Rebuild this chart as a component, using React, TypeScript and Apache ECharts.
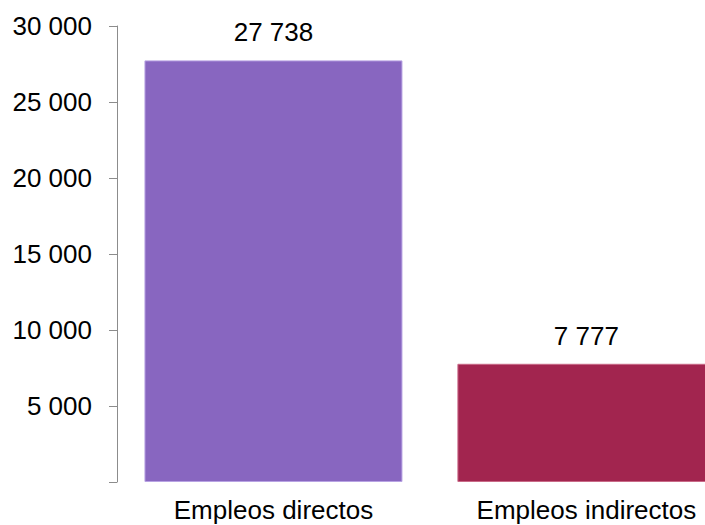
import React, { useEffect, useRef } from "react";
import * as echarts from "echarts";

const categories = ["Empleos directos", "Empleos indirectos"];
const values = [27738, 7777];
const barColors = ["#8866c0", "#a2254f"];
const barBorders = ["#b8a3e3", "#c96a88"];
const yTicks = [0, 5000, 10000, 15000, 20000, 25000, 30000];

const fmt = (v: number) => String(v).replace(/\B(?=(\d{3})+(?!\d))/g, " ");

export default function App() {
  const ref = useRef<HTMLDivElement>(null);
  useEffect(() => {
    if (!ref.current) return;
    const chart = echarts.init(ref.current, undefined, { renderer: "svg" });
    const font = "Liberation Sans, Arial, sans-serif";
    chart.setOption({
      animation: false,
      grid: { left: 117, right: 0, top: 26, bottom: 43, containLabel: false },
      xAxis: {
        type: "value",
        min: -0.5,
        max: 1.379,
        splitLine: { show: false },
        axisLine: { show: false, onZero: false },
        axisTick: { show: false },
        axisLabel: {
          customValues: categories.map((_, i) => i),
          margin: 15,
          fontSize: 26,
          lineHeight: 26,
          fontFamily: font,
          color: "#000",
          formatter: (v: number) => categories[Math.round(v)] ?? "",
        },
      },
      yAxis: {
        type: "value",
        min: yTicks[0],
        max: yTicks[yTicks.length - 1],
        interval: yTicks[1] - yTicks[0],
        splitLine: { show: false },
        axisLine: { show: true, onZero: false, lineStyle: { color: "#8c8c8c", width: 1 } },
        axisTick: { show: true, length: 8, lineStyle: { color: "#8c8c8c" } },
        axisLabel: {
          margin: 25,
          fontSize: 26,
          fontFamily: font,
          color: "#000",
          formatter: (v: number) => (v === 0 ? "" : fmt(v)),
        },
      },
      series: [
        {
          type: "bar",
          barWidth: 258,
          data: values.map((v, i) => ({
            value: [i, v],
            itemStyle: { color: barColors[i], borderColor: barBorders[i], borderWidth: 1 },
          })),
          label: {
            show: true,
            position: "top",
            distance: 15,
            fontSize: 26,
            fontFamily: font,
            color: "#000",
            formatter: (p: any) => fmt(p.value[1]),
          },
        },
      ],
    });
    return () => chart.dispose();
  }, []);
  return <div ref={ref} style={{ width: 705, height: 525, position: "absolute", left: 0, top: 0 }} />;
}
